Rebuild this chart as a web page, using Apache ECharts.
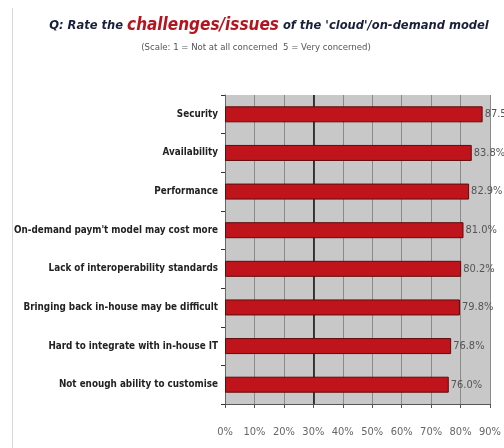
<!DOCTYPE html>
<html>
<head>
<meta charset="utf-8">
<script src="https://cdn.jsdelivr.net/npm/echarts@6/dist/echarts.min.js"></script>
<style>
  html,body{margin:0;padding:0;background:#fff;}
  #chart{width:504px;height:448px;}
</style>
</head>
<body>
<div id="chart"></div>
<script>
var categories = [
  'Security',
  'Availability',
  'Performance',
  "On-demand paym't model may cost more",
  'Lack of interoperability standards',
  'Bringing back in-house may be difficult',
  'Hard to integrate with in-house IT',
  'Not enough ability to customise'
];
var values = [87.5, 83.8, 82.9, 81.0, 80.2, 79.8, 76.8, 76.0];
var xTicks = [0, 10, 20, 30, 40, 50, 60, 70, 80, 90];

(function () {
  var narrow = '"DejaVu Sans Condensed", "Liberation Sans Narrow", "Liberation Sans", sans-serif';
  var myChart = echarts.init(document.getElementById('chart'));
  var option = {
    animation: false,
    backgroundColor: '#fff',
    title: [
      {
        left: 264,
        textAlign: 'center',
        top: 12,
        text: '{a|Q: Rate the }{b|challenges/issues}{a| of the \'cloud\'/on-demand model}',
        textStyle: {
          rich: {
            a: { fontFamily: narrow, fontStyle: 'italic', fontWeight: 'bold', fontSize: 12.8, color: '#1a1f3a' },
            b: { fontFamily: narrow, fontStyle: 'italic', fontWeight: 'bold', fontSize: 17, color: '#b3141e' }
          }
        }
      },
      {
        left: 251,
        textAlign: 'center',
        top: 38,
        text: '(Scale: 1 = Not at all concerned  5 = Very concerned)',
        textStyle: { fontFamily: narrow, fontWeight: 'normal', fontSize: 9.5, color: '#555' }
      }
    ],
    graphic: [
      {
        type: 'line',
        shape: { x1: 12.5, y1: 8, x2: 12.5, y2: 448 },
        style: { stroke: '#d8d8d8', lineWidth: 1 }
      }
    ],
    grid: {
      left: 225,
      right: 14,
      top: 95,
      bottom: 44,
      outerBoundsMode: 'none',
      containLabel: false,
      show: true,
      backgroundColor: '#c8c8c8',
      borderWidth: 0
    },
    xAxis: {
      type: 'value',
      min: 0,
      max: 90,
      interval: 10,
      axisLine: { show: true, lineStyle: { color: '#555', width: 1 } },
      axisTick: { show: true, length: 4, lineStyle: { color: '#555' } },
      axisLabel: {
        margin: 23,
        fontFamily: narrow,
        fontSize: 11,
        color: '#666',
        formatter: function (v) { return xTicks.indexOf(v) >= 0 ? v + '%' : ''; }
      },
      splitLine: { show: true, lineStyle: { color: '#8a8a8a', width: 1 } }
    },
    yAxis: {
      type: 'category',
      data: categories,
      inverse: true,
      axisLine: { show: true, lineStyle: { color: '#666', width: 1 } },
      axisTick: { show: true, length: 4, lineStyle: { color: '#333' } },
      axisLabel: {
        margin: 7,
        fontFamily: narrow,
        fontWeight: 'bold',
        fontSize: 9.8,
        color: '#222'
      }
    },
    series: [
      {
        type: 'bar',
        data: values,
        barWidth: 16,
        itemStyle: {
          color: '#c0141c',
          borderColor: '#5e0b0b',
          borderWidth: 1
        },
        label: {
          show: true,
          position: 'right',
          distance: 2,
          fontFamily: narrow,
          fontSize: 11,
          color: '#555',
          formatter: function (p) { return p.value.toFixed(1) + '%'; }
        },
        markLine: {
          silent: true,
          symbol: 'none',
          label: { show: false },
          lineStyle: { color: '#111', type: 'solid', width: 1.5 },
          data: [{ xAxis: 30 }],
          z: 1
        }
      }
    ]
  };
  myChart.setOption(option);
  window.addEventListener('resize', function () {
    myChart.resize();
  });
})();
</script>
</body>
</html>
